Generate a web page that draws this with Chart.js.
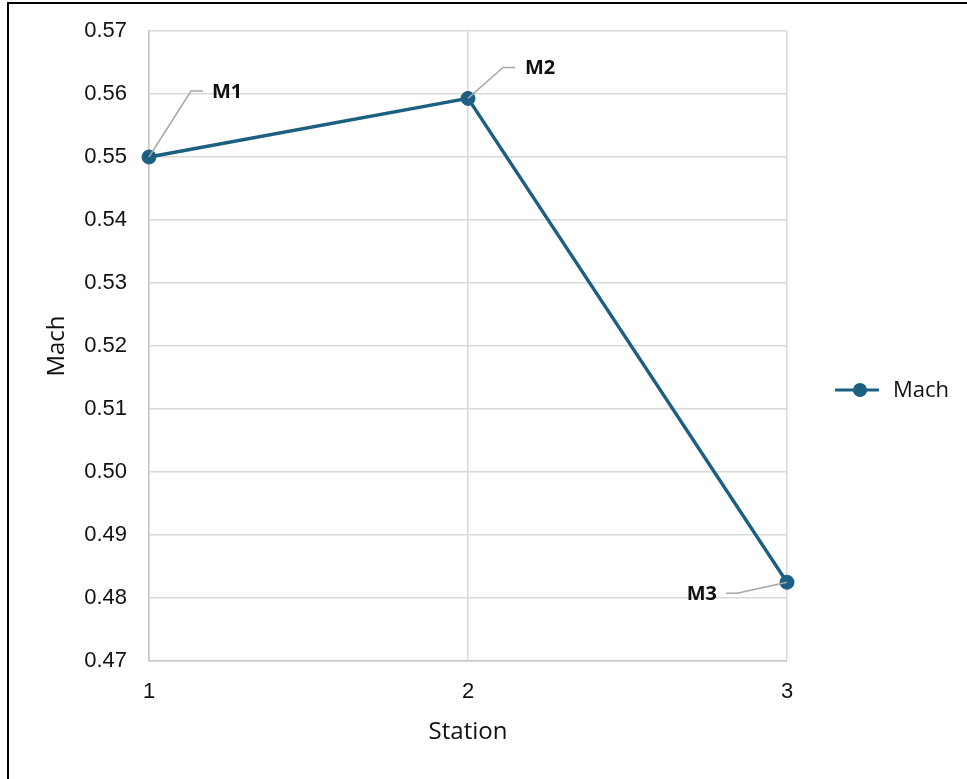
<!DOCTYPE html>
<html>
<head>
<meta charset="utf-8">
<script src="https://cdn.jsdelivr.net/npm/chart.js@4"></script>
<style>
  html, body { margin: 0; padding: 0; background: #fff; }
  #wrap { position: relative; width: 967px; height: 779px; overflow: hidden; }
  #frame { position: absolute; left: 7px; top: 2px; right: -10px; bottom: -10px;
           border-left: 2px solid #000; border-top: 2px solid #000; pointer-events: none; }
  canvas { position: absolute; left: 0; top: 0; }
</style>
</head>
<body>
<div id="wrap">
  <canvas id="chart" width="967" height="779"></canvas>
  <div id="frame"></div>
</div>
<script>
// Mach number at each station
const stations = [1, 2, 3];
const machValues = [0.5500, 0.5593, 0.4825];
const pointLabels = ['M1', 'M2', 'M3'];
const yTicks = [0.47, 0.48, 0.49, 0.50, 0.51, 0.52, 0.53, 0.54, 0.55, 0.56, 0.57];
const xTicks = [1, 2, 3];
const seriesName = 'Mach';
const xTitle = 'Station';
const yTitle = 'Mach';

const lineColor = '#1b5f82';
const gridColor = '#d9d9d9';
const textColor = '#111111';
const tickFont = { family: 'Liberation Sans', size: 22 };
const titleFont = { family: 'Open Sans', size: 24 };

// Leader-line callouts: elbow offset, end of the horizontal run, text anchor
const callouts = [
  { elbow: [42, -66], endX: 54, textX: 63, align: 'left' },
  { elbow: [35, -31], endX: 47, textX: 57, align: 'left' },
  { elbow: [-50, 11], endX: -61, textX: -70, align: 'right' }
];

const calloutPlugin = {
  id: 'callouts',
  afterDatasetsDraw(chart) {
    const ctx = chart.ctx;
    const meta = chart.getDatasetMeta(0);
    ctx.save();
    meta.data.forEach((pt, i) => {
      const c = callouts[i];
      const ex = pt.x + c.elbow[0], ey = pt.y + c.elbow[1];
      ctx.strokeStyle = '#a6a6a6';
      ctx.lineWidth = 1.5;
      ctx.beginPath();
      ctx.moveTo(pt.x, pt.y);
      ctx.lineTo(ex, ey);
      ctx.lineTo(pt.x + c.endX, ey);
      ctx.stroke();
      ctx.fillStyle = '#111';
      ctx.font = 'bold 20px "Open Sans"';
      ctx.textBaseline = 'middle';
      ctx.textAlign = c.align;
      ctx.fillText(pointLabels[i], pt.x + c.textX, ey + 1);
    });
    ctx.restore();
  }
};

// Legend on the right: line with a marker, then the series name
const sideLegend = {
  id: 'sideLegend',
  afterDraw(chart) {
    const ctx = chart.ctx;
    const ds = chart.data.datasets[0];
    const y = 390;
    ctx.save();
    ctx.strokeStyle = ds.borderColor;
    ctx.lineWidth = 3.2;
    ctx.beginPath();
    ctx.moveTo(835, y);
    ctx.lineTo(879, y);
    ctx.stroke();
    ctx.fillStyle = ds.pointBackgroundColor;
    ctx.beginPath();
    ctx.arc(860, y, 7, 0, Math.PI * 2);
    ctx.fill();
    ctx.fillStyle = textColor;
    ctx.font = '22px "Open Sans"';
    ctx.textAlign = 'left';
    ctx.textBaseline = 'middle';
    ctx.fillText(ds.label, 893, y + 1);
    ctx.restore();
  }
};

new Chart(document.getElementById('chart'), {
  type: 'line',
  data: {
    datasets: [{
      label: seriesName,
      data: stations.map((s, i) => ({ x: s, y: machValues[i] })),
      borderColor: lineColor,
      backgroundColor: lineColor,
      pointBackgroundColor: lineColor,
      pointBorderColor: lineColor,
      borderWidth: 3.4,
      pointRadius: 7,
      pointBorderWidth: 1,
      tension: 0,
      clip: false
    }]
  },
  options: {
    responsive: false,
    animation: false,
    events: [],
    layout: { padding: { top: 31, right: 180, bottom: 0, left: 0 } },
    plugins: { legend: { display: false }, tooltip: { enabled: false } },
    scales: {
      x: {
        type: 'linear',
        min: 1, max: 3,
        afterBuildTicks: (axis) => { axis.ticks = xTicks.map(v => ({ value: v })); },
        afterFit: (axis) => { axis.height = 118; axis.paddingLeft = 0; axis.paddingRight = 0; },
        grid: { color: gridColor, lineWidth: 1.5, drawTicks: false },
        border: { color: '#c8c8c8', width: 1.5 },
        ticks: { color: textColor, font: tickFont, padding: 18, maxRotation: 0 },
        title: { display: true, text: xTitle, color: textColor, font: titleFont,
                 padding: { top: 0, bottom: 32 } }
      },
      y: {
        type: 'linear',
        min: 0.47, max: 0.57,
        afterBuildTicks: (axis) => { axis.ticks = yTicks.map(v => ({ value: v })); },
        afterFit: (axis) => { axis.width = 149; axis.paddingTop = 0; axis.paddingBottom = 0; },
        grid: { color: gridColor, lineWidth: 1.5, drawTicks: false },
        border: { color: '#c8c8c8', width: 1.5 },
        ticks: { color: textColor, font: tickFont, padding: 22,
                 callback: (v) => Number(v).toFixed(2) },
        title: { display: true, text: yTitle, color: textColor, font: titleFont,
                 padding: { top: 43, bottom: 0 } }
      }
    }
  },
  plugins: [calloutPlugin, sideLegend]
});
</script>
</body>
</html>
